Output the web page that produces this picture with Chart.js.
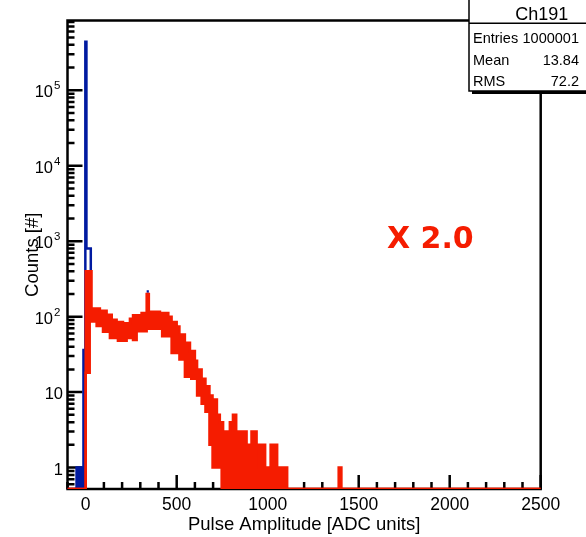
<!DOCTYPE html>
<html>
<head>
<meta charset="utf-8">
<title>Ch191</title>
<script src="https://cdn.jsdelivr.net/npm/chart.js@4.4.1/dist/chart.umd.min.js"></script>
<style>
  html, body { margin: 0; padding: 0; background: #fff; }
  canvas { display: block; }
</style>
</head>
<body>
<canvas id="chart" width="586" height="537"></canvas>
<script>
const xRange = [-100, 2500]
const yRange = [0.52, 840000]
const xTicks = [0, 500, 1000, 1500, 2000, 2500]
const yDecades = [1, 10, 100, 1000, 10000, 100000]

// red histogram (x 2.0), bin edges in ADC units, band = min/max of the fine bins
const redEdges = [-100, 0, 22, 32, 60, 78, 95, 115, 133, 143, 170, 177, 205, 225, 243, 260, 280, 307, 335, 347,
  408, 420, 454, 472, 500, 515, 545, 573, 580, 600, 612, 637, 658, 680, 697, 721, 737, 747, 755, 792, 809, 827,
  884, 911, 939, 953, 964, 986, 1016, 1052, 1107, 1390, 1405, 2500]
const redHigh = [0, 400, 400, 128, 128, 120, 120, 106, 106, 91, 85, 85, 82, 82, 94, 104, 104, 112, 200, 116,
  112, 112, 100, 85, 74, 58, 45, 35, 35, 26, 20, 15, 12, 9, 8, 5, 4, 4, 3, 4, 5, 3,
  2, 3, 2, 1, 2, 1, 2, 1, 0, 1, 0]
const redLow = [0, 18, 86, 86, 75, 75, 63, 63, 52, 52, 52, 48, 48, 52, 52, 49, 64, 64, 69, 69,
  69, 55, 55, 33, 33, 27, 16, 16, 15, 15, 9, 7, 5.5, 2, 1, 1, 1, 0, 0, 0, 0, 0,
  0, 0, 0, 0, 0, 0, 0, 0, 0, 0, 0]

// blue histogram (pedestal peak)
const blueEdges = [-100, -50, -12, -2, 4, 28, 34]
const blueCounts = [0, 1, 36, 440000, 800, 280]
const blueSpikeEdges = [335, 347]
const blueSpikeCounts = [215]

const histName = 'Ch191'
const stats = [['Entries', '1000001'], ['Mean', '13.84'], ['RMS', '72.2']]
const scaleNote = 'X 2.0'

const RED = '#f51c00'
const BLUE = '#001aa0'
const FONT = '"Liberation Sans", Arial, sans-serif'

function histPoints(edges, counts) {
  const pts = []
  for (let i = 0; i < counts.length; i++) {
    const c = counts[i] > 0 ? counts[i] : yRange[0]
    pts.push({x: edges[i], y: c}, {x: edges[i + 1], y: c})
  }
  return pts
}

const nPed = blueEdges.indexOf(-2)
const bluePts = histPoints(blueEdges, blueCounts)
  .concat([{x: 100, y: null}])
  .concat(histPoints(blueSpikeEdges, blueSpikeCounts))

const rootFrame = {
  id: 'rootFrame',
  beforeDatasetsDraw(chart) {
    const {ctx, chartArea: a, scales: {x, y}} = chart
    ctx.save()
    ctx.strokeStyle = '#000'
    ctx.lineWidth = 2.5
    ctx.beginPath()
    for (let v = xRange[0]; v <= xRange[1]; v += 100) {
      const px = x.getPixelForValue(v)
      const len = v % 500 === 0 ? 14 : 7
      ctx.moveTo(px, a.bottom)
      ctx.lineTo(px, a.bottom - len)
    }
    for (let e = -1; e <= 5; e++) {
      for (let m = 1; m <= 9; m++) {
        const v = m * Math.pow(10, e)
        if (v < yRange[0] || v > yRange[1]) continue
        const py = y.getPixelForValue(v)
        const len = m === 1 ? 15 : 7
        ctx.moveTo(a.left, py)
        ctx.lineTo(a.left + len, py)
      }
    }
    ctx.stroke()
    ctx.strokeRect(a.left, a.top, a.right - a.left, a.bottom - a.top)
    ctx.restore()
  },
  afterDraw(chart) {
    const {ctx, scales: {y}} = chart
    ctx.save()
    ctx.fillStyle = '#000'
    ctx.textBaseline = 'alphabetic'
    yDecades.forEach(v => {
      const py = y.getPixelForValue(v)
      const exp = Math.round(Math.log10(v))
      ctx.font = '16.5px ' + FONT
      ctx.textAlign = 'right'
      if (exp < 2) {
        ctx.fillText(String(v), 63, py + 7)
      } else {
        ctx.fillText('10', 53, py + 7)
        ctx.font = '11.5px ' + FONT
        ctx.textAlign = 'left'
        ctx.fillText(String(exp), 54, py - 1)
      }
    })

    // stats box
    const bx = 469, by = -2, bw = 118, bh = 93
    ctx.fillStyle = '#000'
    ctx.fillRect(bx + 3, by + 3, bw, bh)
    ctx.fillStyle = '#fff'
    ctx.fillRect(bx, by, bw, bh)
    ctx.strokeStyle = '#000'
    ctx.lineWidth = 1.5
    ctx.strokeRect(bx, by, bw, bh)
    ctx.beginPath()
    ctx.moveTo(bx, 23.3)
    ctx.lineTo(bx + bw, 23.3)
    ctx.stroke()
    ctx.fillStyle = '#000'
    ctx.font = '18px ' + FONT
    ctx.textAlign = 'center'
    ctx.fillText(histName, 541.7, 19.5)
    ctx.font = '14.5px ' + FONT
    stats.forEach(([k, val], i) => {
      const base = 43 + i * 21.5
      ctx.textAlign = 'left'
      ctx.fillText(k, 473, base)
      ctx.textAlign = 'right'
      ctx.fillText(val, 579, base)
    })

    ctx.fillStyle = RED
    ctx.font = 'bold 30px "DejaVu Sans", sans-serif'
    ctx.textAlign = 'left'
    ctx.fillText(scaleNote, 387, 248)
    ctx.restore()
  }
}

Chart.defaults.font.family = FONT
Chart.defaults.color = '#000'

new Chart(document.getElementById('chart'), {
  type: 'line',
  data: {
    datasets: [
      {data: histPoints(redEdges, redHigh), borderColor: RED, backgroundColor: RED, borderWidth: 2.5, fill: '+1'},
      {data: histPoints(redEdges, redLow), borderColor: RED, borderWidth: 2.5, fill: false},
      {data: bluePts, borderColor: BLUE, borderWidth: 2.5, fill: false},
      {data: histPoints(blueEdges.slice(0, nPed + 1), blueCounts.slice(0, nPed)), borderColor: BLUE,
        backgroundColor: BLUE, borderWidth: 1.5, fill: 'start'}
    ]
  },
  options: {
    responsive: false,
    animation: false,
    devicePixelRatio: 1,
    elements: {point: {radius: 0}, line: {tension: 0}},
    layout: {padding: {top: 20.5, right: 45.3, left: 0, bottom: 0}},
    plugins: {legend: {display: false}, tooltip: {enabled: false}},
    scales: {
      x: {
        type: 'linear',
        min: xRange[0],
        max: xRange[1],
        afterBuildTicks: s => { s.ticks = xTicks.map(v => ({value: v})) },
        afterFit: s => { s.height = 48 },
        grid: {display: false, drawTicks: false},
        border: {display: false},
        ticks: {font: {size: 17.5}, color: '#000', padding: 6, maxRotation: 0, autoSkip: false,
          callback: v => String(v)},
        title: {display: true, text: 'Pulse Amplitude [ADC units]', font: {size: 18.5}, color: '#000',
          padding: {top: 0, bottom: 1}}
      },
      y: {
        type: 'logarithmic',
        min: yRange[0],
        max: yRange[1],
        afterFit: s => { s.width = 67.5 },
        grid: {display: false, drawTicks: false},
        border: {display: false},
        ticks: {display: false},
        title: {display: true, text: 'Counts [#]', font: {size: 18.5}, color: '#000', padding: {top: 22, bottom: 0}}
      }
    }
  },
  plugins: [rootFrame]
})
</script>
</body>
</html>
